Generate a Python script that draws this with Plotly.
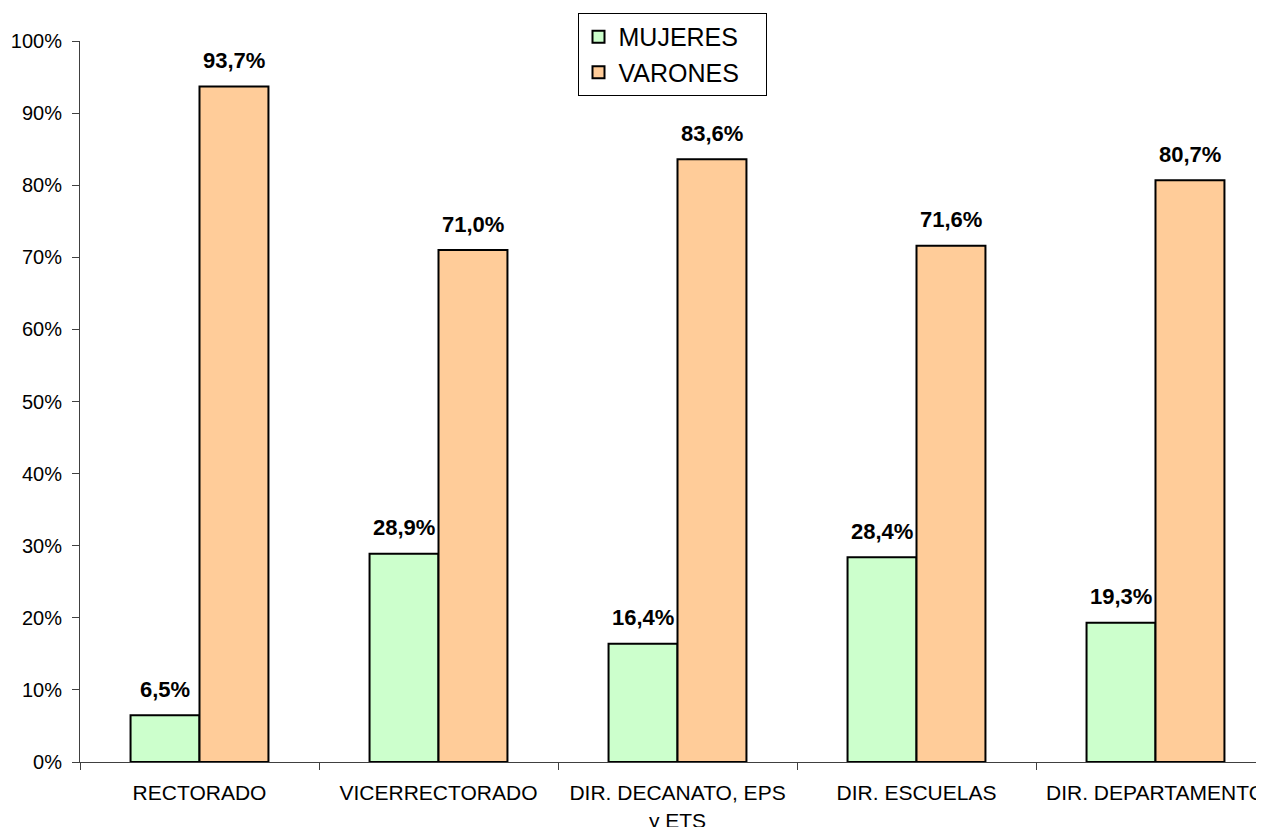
import plotly.graph_objects as go

categories = ["RECTORADO", "VICERRECTORADO", "DIR. DECANATO, EPS<br>y ETS", "DIR. ESCUELAS", "DIR. DEPARTAMENTO"]
mujeres = [6.5, 28.9, 16.4, 28.4, 19.3]
varones = [93.7, 71.0, 83.6, 71.6, 80.7]
series_names = ["MUJERES", "VARONES"]
colors = ["#CCFFCC", "#FFCC99"]

FONT = "Liberation Sans, Arial, sans-serif"
PAD = "&nbsp;" * 3

fig = go.Figure()
for name, vals, col in zip(series_names, [mujeres, varones], colors):
    fig.add_trace(go.Bar(
        name=name + PAD, x=categories, y=vals,
        marker=dict(color=col, line=dict(color="black", width=2)),
    ))

def fmt(v):
    return f"{v:.1f}".replace(".", ",") + "%"

annotations = []
for shift, vals in zip([-34.5, 34.5], [mujeres, varones]):
    for c, v in zip(categories, vals):
        annotations.append(dict(
            x=c, y=v, xref="x", yref="y", text="<b>" + fmt(v) + "</b>",
            showarrow=False, xshift=shift, yshift=26, yanchor="middle",
            font=dict(family=FONT, size=22, color="black"),
        ))

fig.update_layout(
    width=1256, height=819,
    margin=dict(l=72, r=0, t=33, b=65),
    paper_bgcolor="white", plot_bgcolor="white",
    barmode="group", bargap=0.423, bargroupgap=0,
    font=dict(family=FONT, size=20, color="black"),
    annotations=annotations,
    legend=dict(
        x=0.5, xanchor="center", y=1.039, yanchor="top",
        bordercolor="black", borderwidth=1, bgcolor="white",
        font=dict(family=FONT, size=25, color="black"),
        tracegroupgap=6,
    ),
    xaxis=dict(
        range=[-0.5, 4.454], showline=True, linecolor="#404040", linewidth=1,
        ticks="outside", tickson="boundaries", ticklen=7, tickcolor="#404040",
        showgrid=False, tickfont=dict(family=FONT, size=21), fixedrange=True,
        ticklabelstandoff=12, automargin=False,
    ),
    yaxis=dict(
        range=[0, 100], dtick=10, ticksuffix="%", showline=True,
        linecolor="#404040", linewidth=1, ticks="outside", ticklen=7,
        tickcolor="#404040", showgrid=False, zeroline=False,
        tickfont=dict(family=FONT, size=20), fixedrange=True,
        ticklabelstandoff=6, automargin=False,
    ),
)

fig.write_html("out.html")
